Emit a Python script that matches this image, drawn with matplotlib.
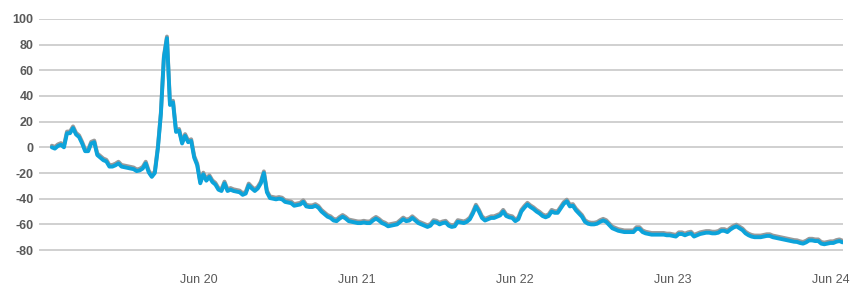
import numpy as np
import pandas as pd
import matplotlib
matplotlib.use("Agg")
import matplotlib.pyplot as plt
import matplotlib.dates as mdates
import matplotlib.patheffects as pe

# weekly readings, end of Jun 2019 -> end of Jun 2024
start_date = "2019-06-28"
values = [
    0, -1, 1, 2, 0, 11, 11, 15, 10, 8,
    3, -3, -3, 3, 4, -6, -8, -10, -11, -15,
    -15, -14, -12.5, -15, -15.5, -16, -16.5, -17, -18.5, -18,
    -16.5, -12.5, -19.5, -23, -20, -1, 26, 70, 85, 33,
    35, 12, 13, 3, 9, 4, 5, -8, -14, -28,
    -21, -26, -23, -27, -29, -33, -34, -28, -34, -33,
    -34, -34.5, -35, -37, -36, -29.5, -32, -34, -32, -28,
    -20, -35, -39.5, -40, -40.5, -40, -40.5, -42.5, -43, -43.5,
    -45.5, -45, -44.5, -42.5, -46, -46.5, -46.5, -45.5, -47, -50,
    -52, -54, -55, -57, -57.5, -55.5, -54, -55.5, -57.5, -58,
    -58.5, -59, -59, -58.5, -59, -59, -57, -55.5, -57, -59,
    -60, -61.5, -61, -60.5, -60, -58, -56, -57.5, -57, -55,
    -57, -59, -60, -61, -62, -61, -58, -58.5, -60, -59,
    -58.5, -61, -62, -61.5, -58, -58.5, -59, -58, -56, -51.5,
    -46, -50, -55, -57, -56, -55, -55, -54, -53, -50,
    -53.5, -54.5, -55, -57.5, -56, -50, -47, -44.5, -46.5, -48,
    -50, -51.5, -53.5, -54.5, -53.5, -50, -51, -51, -47.5, -44,
    -42, -46, -45.5, -49, -51.5, -54, -58, -59.5, -60, -60,
    -59.5, -58, -57, -58, -60.5, -63, -64, -65, -65.5, -66,
    -66, -66, -66, -63.5, -63.5, -66, -67, -67.5, -68, -68,
    -68, -68, -68, -68.5, -68.5, -69, -69.5, -67.5, -67.5, -68.5,
    -67.5, -67, -69.5, -68.5, -67.5, -67, -66.5, -66.5, -67, -67,
    -66.5, -65, -65, -66, -64, -62.5, -61.5, -63, -64.5, -67,
    -68.5, -69.5, -70, -70, -70, -69.5, -69, -69, -70, -70.5,
    -71, -71.5, -72, -72.5, -73, -73.5, -73.7, -74.5, -75, -74,
    -72.5, -72.5, -73, -73, -75, -75.5, -75, -74.5, -74.5, -73.5,
    -73, -74,
]
dates = pd.date_range(start_date, periods=len(values), freq="7D")

yticks = [100, 80, 60, 40, 20, 0, -20, -40, -60, -80]
xtick_dates = pd.to_datetime(["2020-06-01", "2021-06-01", "2022-06-01",
                              "2023-06-01", "2024-06-01"])
xtick_labels = ["Jun 20", "Jun 21", "Jun 22", "Jun 23", "Jun 24"]

plt.rcParams["font.family"] = ["Liberation Sans", "DejaVu Sans"]

fig = plt.figure(figsize=(8.54, 2.87), dpi=100)
ax = fig.add_axes([0.046, 0.084, 0.941, 0.850])

ax.plot(dates, values, color="#0ca3da", lw=2.8, solid_capstyle="round",
        path_effects=[pe.SimpleLineShadow(offset=(0, 1.2), shadow_color="#9a9a9a", alpha=1),
                      pe.Normal()], zorder=3)

ax.set_ylim(-90, 100)
ax.set_xlim(pd.Timestamp("2019-05-30"), pd.Timestamp("2024-06-29"))
ax.set_yticks(yticks)
ax.set_yticklabels([str(v) for v in yticks])
ax.set_xticks(xtick_dates)
ax.set_xticklabels(xtick_labels)

ax.grid(axis="y", color="#c4c4c4", lw=1.1)
ax.set_axisbelow(True)
for s in ax.spines.values():
    s.set_visible(False)
ax.tick_params(axis="both", length=0, labelsize=9, colors="#595959")
ax.tick_params(axis="y", pad=4)
ax.tick_params(axis="x", pad=8)
for lab in ax.get_yticklabels():
    lab.set_fontweight("bold")
    lab.set_color("#595959")

fig.savefig("out.png", dpi=100, facecolor="white")
